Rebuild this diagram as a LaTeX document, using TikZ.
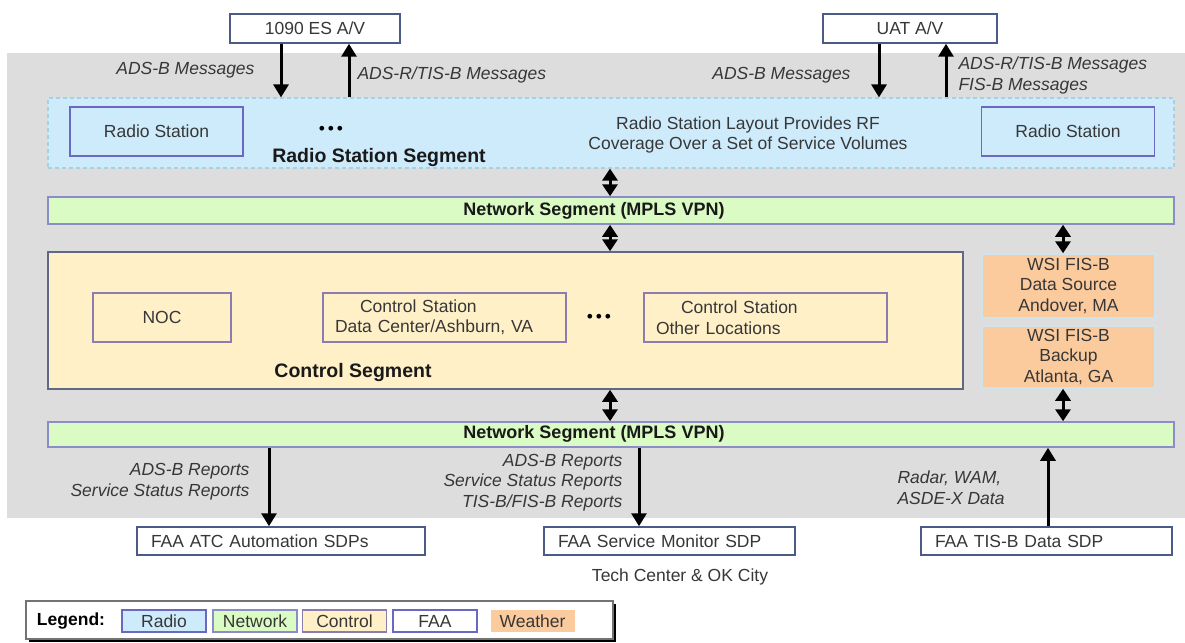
\documentclass[tikz,border=0pt]{standalone}
\usepackage{fontspec}
\setmainfont{Liberation Sans}
\usetikzlibrary{arrows.meta,calc,positioning,shadows}

\definecolor{bggray}{RGB}{221,221,221}
\definecolor{radiofill}{RGB}{206,235,252}
\definecolor{radioline}{RGB}{165,210,225}
\definecolor{stnline}{RGB}{105,105,195}
\definecolor{netfill}{RGB}{218,251,196}
\definecolor{netline}{RGB}{140,140,200}
\definecolor{ctrlfill}{RGB}{255,240,200}
\definecolor{ctrlline}{RGB}{95,105,135}
\definecolor{boxline}{RGB}{140,125,175}
\definecolor{wxfill}{RGB}{251,203,158}
\definecolor{wxline}{RGB}{205,228,238}
\definecolor{faaline}{RGB}{75,90,135}
\definecolor{txt}{RGB}{55,55,55}

\newcommand{\txtsize}{\fontsize{17.5}{20.5}\selectfont}
\newcommand{\segsize}{\fontsize{19.5}{23}\selectfont\bfseries}
\newcommand{\netsize}{\fontsize{18}{22}\selectfont\bfseries}

\tikzset{
  box/.style={rectangle, draw, line width=1.5pt, inner sep=0pt, text=txt, font=\txtsize},
  avbox/.style={box, draw=faaline, fill=white, minimum height=29pt},
  radioseg/.style={box, draw=radioline, fill=radiofill, line width=1.2pt, dash pattern=on 4pt off 3pt},
  stnbox/.style={box, draw=stnline, fill=radiofill, minimum width=173pt, minimum height=49pt},
  netseg/.style={box, draw=netline, fill=netfill, minimum width=1126pt},
  ctrlseg/.style={box, draw=ctrlline, fill=ctrlfill},
  ctrlbox/.style={box, draw=boxline, fill=ctrlfill, line width=1.2pt, minimum height=49pt},
  wxbox/.style={box, draw=wxline, fill=wxfill, minimum width=173pt, align=center},
  faabox/.style={box, draw=faaline, fill=white, minimum height=28pt, align=left, inner xsep=14pt, text width=223pt},
  segtitle/.style={font=\segsize, text=black!90},
  nettitle/.style={font=\netsize, text=black!90},
  note/.style={font=\txtsize, text=txt, align=center},
  msg/.style={font=\txtsize\itshape, text=txt, inner sep=2pt},
  dots/.style={font=\txtsize, text=black},
  flow/.style={>={Triangle[width=15pt,length=13pt]}, ->, line width=3pt},
  link/.style={>={Triangle[width=15pt,length=12pt]}, <->, line width=3pt},
  legitem/.style={box, line width=1.2pt, minimum width=84pt, minimum height=22pt},
}

\begin{document}
\begin{tikzpicture}[x=1pt, y=-1pt]

  \useasboundingbox (0,0) rectangle (1185,642);
  \fill [bggray] (7,53) rectangle (1185,518);

  % segments
  \node [radioseg, minimum width=1126pt, minimum height=70pt] (radio) at (611,133) {};
  \node [netseg, minimum height=27pt] (net1) at (611,210.5) {};
  \node [ctrlseg, minimum width=915pt, minimum height=137pt] (ctrl) at (505.5,320.5) {};
  \node [netseg, minimum height=25pt] (net2) at (611,434.5) {};

  \node [stnbox] (rs1) at (156.5,131.5) {Radio Station};
  \node [stnbox] (rs2) at (1068,131.5) {Radio Station};
  \node [dots] (rsdots) at (331,130) {\textbullet\,\textbullet\,\textbullet};
  \node [segtitle] (rstitle) at (379,157) {Radio Station Segment};
  \node [note] (rsnote) at (748,135) {Radio Station Layout Provides RF\\Coverage Over a Set of Service Volumes};

  \node [nettitle] (net1title) at (594,211) {Network Segment (MPLS VPN)};
  \node [nettitle] (net2title) at (594,434) {Network Segment (MPLS VPN)};

  \node [ctrlbox, minimum width=138pt] (noc) at (162,317.5) {NOC};
  \node [ctrlbox, align=left, inner xsep=12pt, text width=219pt] (cs1) at (444.5,317.5)
    {\hspace*{25pt}Control Station\\Data Center/Ashburn, VA};
  \node [dots] (csdots) at (599,318) {\textbullet\,\textbullet\,\textbullet};
  \node [ctrlbox, align=left, inner xsep=12pt, text width=219pt] (cs2) at (765.5,317.5)
    {\hspace*{25pt}Control Station\\Other Locations};
  \node [segtitle] (ctitle) at (353,372) {Control Segment};

  \node [wxbox, minimum height=64pt] (wsi1) at (1068.5,286) {WSI FIS-B\\Data Source\\Andover, MA};
  \node [wxbox, minimum height=62pt] (wsi2) at (1068.5,357) {WSI FIS-B\\Backup\\Atlanta, GA};

  % aircraft and FAA ends
  \node [avbox, minimum width=170pt] (av1090) at (315,28.5) {1090 ES A/V};
  \node [avbox, minimum width=174pt] (avuat) at (910,28.5) {UAT A/V};

  \node [faabox, text width=260pt] (atc) at (281,541) {FAA ATC Automation SDPs};
  \node [faabox] (mon) at (669.5,541) {FAA Service Monitor SDP};
  \node [faabox] (tisb) at (1046.5,541) {FAA TIS-B Data SDP};
  \node [note] (tech) at (680,577) {Tech Center \& OK City};

  % arrow columns
  \coordinate (x1090dn) at (281,0);
  \coordinate (x1090up) at (349,0);
  \coordinate (xuatdn) at (879,0);
  \coordinate (xuatup) at (946,0);
  \coordinate (xmid) at (610,0);
  \coordinate (xwsi) at (1063,0);
  \coordinate (xatc) at (269,0);
  \coordinate (xmon) at (639,0);
  \coordinate (xtisb) at (1048,0);

  \path [flow] (av1090.south -| x1090dn) edge node [msg, left=23pt] {ADS-B Messages} (radio.north -| x1090dn);
  \path [flow] (radio.north -| x1090up) edge node [msg, right=5pt, pos=.42] {ADS-R/TIS-B Messages} (av1090.south -| x1090up);
  \path [flow] (avuat.south -| xuatdn) edge node [msg, left=25pt, pos=.58] {ADS-B Messages} (radio.north -| xuatdn);
  \path [flow] (radio.north -| xuatup) edge node [msg, right=9pt, pos=.41, align=left] {ADS-R/TIS-B Messages\\FIS-B Messages} (avuat.south -| xuatup);

  \path [link] (radio.south -| xmid) edge (net1.north -| xmid);
  \path [link] (net1.south -| xmid) edge (ctrl.north -| xmid);
  \path [link] (net1.south -| xwsi) edge (wsi1.north -| xwsi);
  \path [link] (ctrl.south -| xmid) edge (net2.north -| xmid);
  \path [link] (wsi2.south -| xwsi) edge (net2.north -| xwsi);

  \path [flow] (net2.south -| xatc) edge node [msg, left=16pt, pos=.43, align=right] {ADS-B Reports\\Service Status Reports} (atc.north -| xatc);
  \path [flow] (net2.south -| xmon) edge node [msg, left=13pt, pos=.44, align=right] {ADS-B Reports\\Service Status Reports\\TIS-B/FIS-B Reports} (mon.north -| xmon);
  \path [flow] (tisb.north -| xtisb) edge node [msg, left=40pt, pos=.49, align=left] {Radar, WAM,\\ASDE-X Data} (net2.south -| xtisb);

  % legend
  \node [box, draw=black!55, line width=1.2pt, fill=white, minimum width=587pt, minimum height=38pt,
    drop shadow={shadow xshift=3pt, shadow yshift=-3pt, fill=black, opacity=1}] (leg) at (319.5,620) {};
  \node [font=\txtsize\bfseries, text=black] (legtitle) at (71,621) {Legend:};
  \node [legitem, draw=stnline, fill=radiofill] (legradio) at (164,621) {Radio};
  \node [legitem, draw=netline, fill=netfill] (legnet) at (255,621) {Network};
  \node [legitem, draw=boxline, fill=ctrlfill] (legctrl) at (344.5,621) {Control};
  \node [legitem, draw=stnline, fill=white] (legfaa) at (435,621) {FAA};
  \node [legitem, draw=none, fill=wxfill] (legwx) at (532.5,621) {Weather};

\end{tikzpicture}
\end{document}
